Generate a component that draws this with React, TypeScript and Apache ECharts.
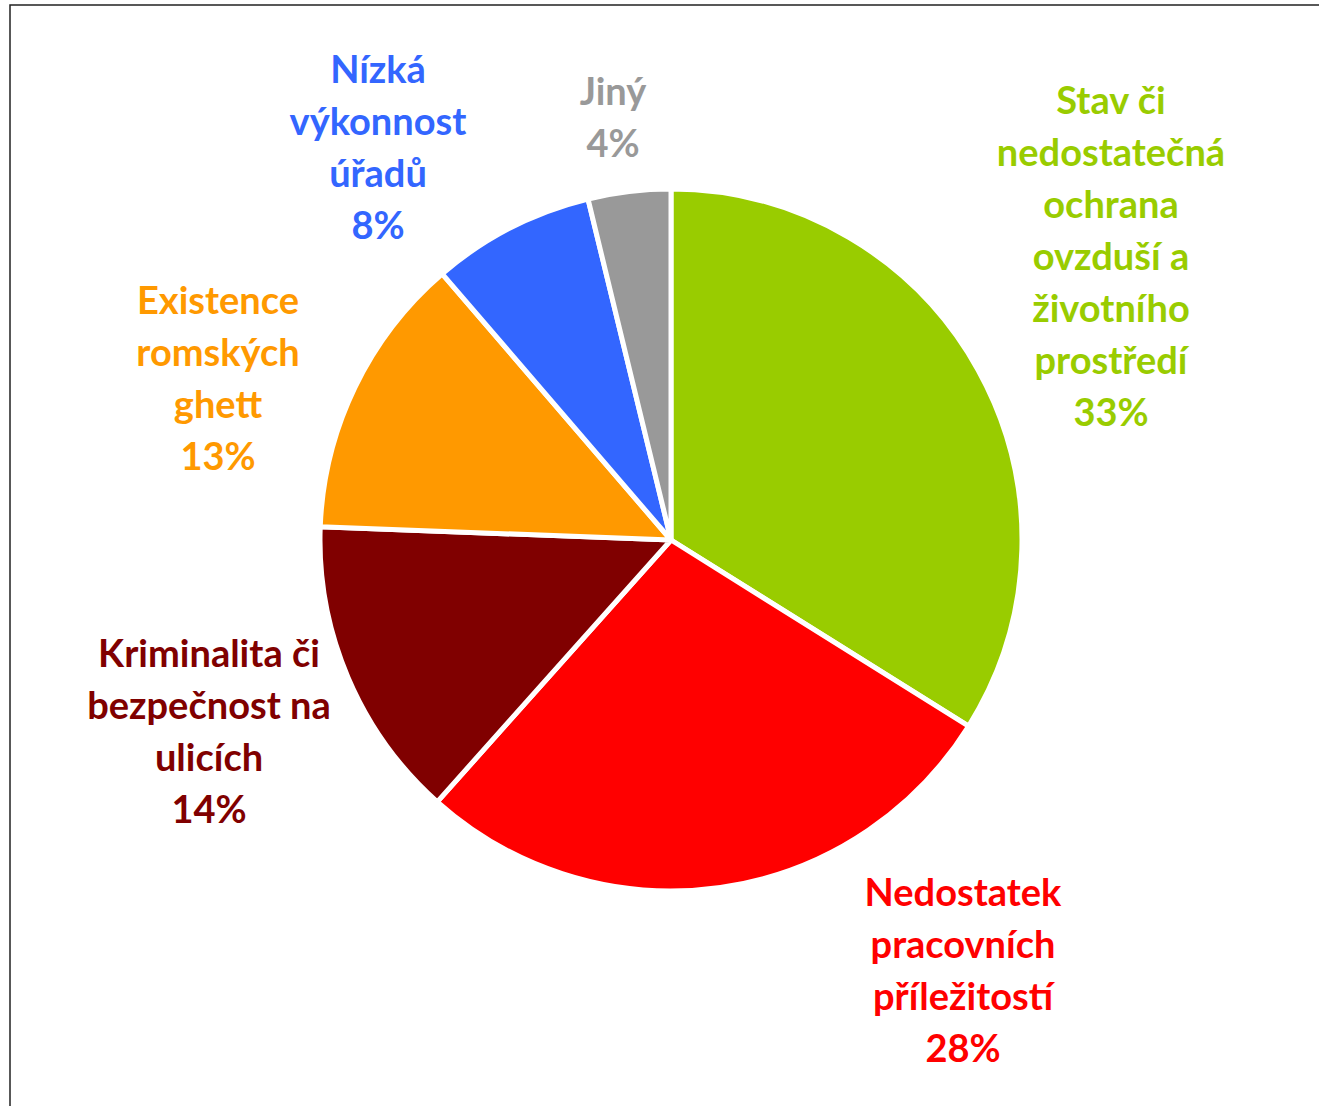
import React, { useEffect, useRef } from "react";
import * as echarts from "echarts";

const categories = [
  "Stav či\nnedostatečná\nochrana\novzduší a\nživotního\nprostředí",
  "Nedostatek\npracovních\npříležitostí",
  "Kriminalita či\nbezpečnost na\nulicích",
  "Existence\nromských\nghett",
  "Nízká\nvýkonnost\núřadů",
  "Jiný",
];
const sliceValues = [33.9, 27.7, 14.0, 13.1, 7.5, 3.8];
// percentages as printed on the labels
const labelPercents = [33, 28, 14, 13, 8, 4];
const colors = ["#99CC00", "#FF0000", "#800000", "#FF9900", "#3366FF", "#999999"];
const labelPositions = [
  [1111, 255],
  [963, 969],
  [209, 730],
  [218, 377],
  [378, 146],
  [613, 116],
];

export default function App() {
  const ref = useRef<HTMLDivElement>(null);
  useEffect(() => {
    if (!ref.current) return;
    const chart = echarts.init(ref.current, null, { renderer: "svg" });
    chart.setOption({
      animation: false,
      backgroundColor: "#ffffff",
      graphic: [
        {
          type: "rect",
          shape: { x: 10, y: 5, width: 1400, height: 1200 },
          style: { fill: "none", stroke: "#222222", lineWidth: 1.5 },
          z: 100,
        },
      ],
      series: [
        {
          type: "pie",
          center: [671, 540],
          radius: 351,
          startAngle: 90,
          clockwise: true,
          avoidLabelOverlap: false,
          itemStyle: { borderColor: "#ffffff", borderWidth: 5 },
          labelLine: { show: false },
          label: {
            show: true,
            position: "outside",
            fontFamily: "Lato",
            fontWeight: "bold",
            fontSize: 38,
            lineHeight: 52,
            align: "center",
            formatter: (p: any) => `${p.name}\n${labelPercents[p.dataIndex]}%`,
          },
          labelLayout: (p: any) => ({
            x: labelPositions[p.dataIndex][0],
            y: labelPositions[p.dataIndex][1],
            align: "center",
            verticalAlign: "middle",
          }),
          emphasis: { disabled: true },
          data: categories.map((name, i) => ({
            name,
            value: sliceValues[i],
            itemStyle: { color: colors[i] },
            label: { color: colors[i] },
          })),
        },
      ],
    });
    return () => chart.dispose();
  }, []);
  return (
    <div
      ref={ref}
      style={{ position: "absolute", left: 0, top: 0, width: 1319, height: 1106 }}
    />
  );
}
